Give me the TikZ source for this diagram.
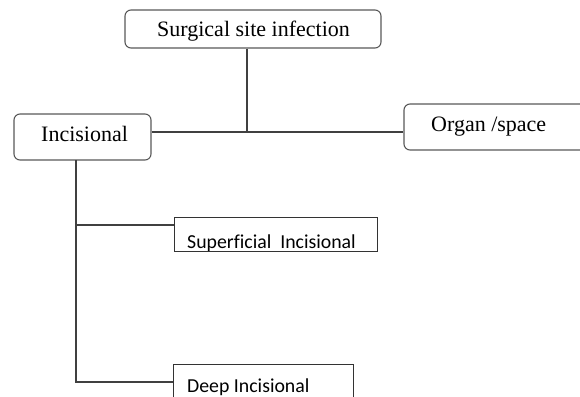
\documentclass[tikz,border=0pt]{standalone}
\usepackage{fontspec}
\setmainfont{Liberation Serif}
\newfontfamily\calib[Ligatures=CommonOff]{Carlito}
\begin{document}
\begin{tikzpicture}[x=1pt,y=-1pt]
\tikzset{
  rbox/.style={draw=black!65, line width=1.1pt, rounded corners=6pt, fill=white, inner sep=0pt},
  sbox/.style={draw=black!80, line width=1pt, fill=white, inner sep=0pt},
  conn/.style={draw=black!75, line width=1.1pt},
  serift/.style={font=\fontsize{22}{26}\selectfont, inner sep=0pt, anchor=base west},
  sanst/.style={font=\calib\fontsize{19.8}{23}\selectfont, inner sep=0pt, anchor=base west}
}
\useasboundingbox (0,0) rectangle (580,396);
% boxes
\node[rbox, minimum width=256pt, minimum height=38pt] (ssi) at (253,29) {};
\node[rbox, minimum width=137pt, minimum height=46pt] (inc) at (82.5,137) {};
\node[rbox, minimum width=190pt, minimum height=46pt] (org) at (499,127) {};
\node[sbox, minimum width=203pt, minimum height=34pt] (sup) at (275.5,234) {};
\node[sbox, minimum width=180pt, minimum height=50pt] (deep) at (263,389) {};
% texts
\node[serift] (ssit) at (157,37) {Surgical site infection};
\node[serift] (inct) at (41,141) {Incisional};
\node[serift] (orgt) at (431,131) {Organ /space};
\begin{scope}
\clip (173,217) rectangle (377,250.5);
\node[sanst] (supt) at (187,248.5) {Superficial\ \ Incisional};
\end{scope}
\node[sanst] (deept) at (187,392) {Deep Incisional};
% connectors
\coordinate (j) at (247,132);
\coordinate (v) at (76,160);
\coordinate (js) at (76,225);
\coordinate (jd) at (76,382);
\draw[conn] (ssi.south -| j) -- (j);
\draw[conn] (inc.east |- j) -- (org.west |- j);
\draw[conn] (v) -- (jd) -- (deep.west |- jd);
\draw[conn] (js) -- (sup.west |- js);
\end{tikzpicture}
\end{document}
